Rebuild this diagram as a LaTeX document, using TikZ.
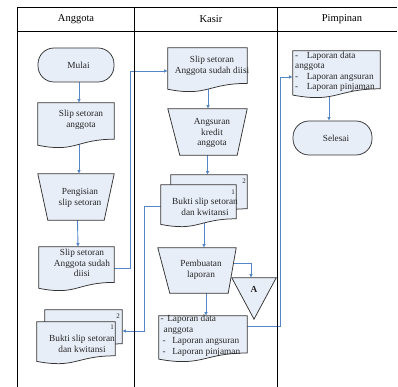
\documentclass[tikz,border=0pt]{standalone}
\usepackage{fontspec}
\setmainfont{Liberation Serif}
\usetikzlibrary{arrows.meta,calc}

\definecolor{shapefill}{RGB}{232,238,248}
\definecolor{linkblue}{RGB}{84,134,200}

\pgfdeclarelayer{bg}
\pgfsetlayers{bg,main}

\tikzset{
  frame/.style={draw=black, line width=0.9pt},
  outline/.style={draw=black!80, fill=shapefill, line width=0.75pt},
  bbox/.style 2 args={rectangle, draw=none, inner sep=0pt, minimum width=#1, minimum height=#2},
  txt/.style={font=\fontsize{9.3}{10.5}\selectfont, align=center, inner sep=0pt, text=black!85},
  listtxt/.style={font=\fontsize{9.3}{10.5}\selectfont, align=left, inner sep=0pt, text=black!85, anchor=north west},
  pagenum/.style={font=\fontsize{7}{8}\selectfont, inner sep=0pt, text=black!85},
  head/.style={font=\fontsize{10.5}{12}\selectfont, inner sep=0pt},
  term/.style={rectangle, rounded corners=16pt, outline, minimum width=#1, minimum height=34pt, txt},
  conn/.style={draw=linkblue, line width=0.9pt, -{Latex[length=3.6pt,width=3.6pt]}}
}

% document symbol: flat top, wavy bottom, drawn inside the node's box
\newcommand\docoutline[1]{%
  \draw[outline] let \p1=(#1.north west), \p2=(#1.south east), \n1={\y1-\y2} in
    (\x1,\y1) -- (\x2,\y1) -- (\x2,{\y1-0.802*\n1})
    .. controls ({0.5*\x1+0.5*\x2},{\y1-0.802*\n1}) and ({0.5*\x1+0.5*\x2},{\y1-1.1075*\n1})
    .. (\x1,{\y1-0.934*\n1}) -- cycle;}

% manual operation symbol: trapezoid narrowing downwards
\newcommand\manoutline[3]{%
  \draw[outline] (#1.north west) -- (#1.north east) -- ([xshift=-#3]#1.south east)
    -- ([xshift=#2]#1.south west) -- cycle;}

\begin{document}
\begin{tikzpicture}[x=1pt,y=-1pt]
\useasboundingbox (0,0) rectangle (398,387);

% swimlane frame
\draw[frame] (17,7) -- (397,7);
\draw[frame] (17,31) -- (397,31);
\draw[frame] (17,7) -- (17,387);
\draw[frame] (134,7) -- (134,387);
\draw[frame] (277,7) -- (277,387);
\node[head] (h1) at (76,19) {Anggota};
\node[head] (h2) at (211,19) {Kasir};
\node[head] (h3) at (342,19) {Pimpinan};

% ---- Anggota ----
\node[term=76pt] (mulai) at (76,65) {\hspace*{5pt}Mulai};

\node[bbox={76pt}{45pt}] (slipA) at (76,125.5) {};
\docoutline{slipA}
\node[txt] (slipA-t) at (81,120) {Slip setoran\\anggota};

\node[bbox={76pt}{46pt}] (isi) at (76,197) {};
\manoutline{isi}{10pt}{10pt}
\node[txt] (isi-t) at (80,198) {Pengisian\\slip setoran};

\node[bbox={75pt}{44pt}] (slipB) at (76.5,269) {};
\docoutline{slipB}
\node[txt] (slipB-t) at (82,263) {Slip setoran\\Anggota sudah\\diisi};

\node[bbox={77pt}{42pt}] (buktiA-back) at (83.5,331) {};
\node[bbox={78pt}{42pt}] (buktiA) at (76,343) {};
\docoutline{buktiA-back}
\docoutline{buktiA}
\node[pagenum] (buktiA-2) at (118,316) {2};
\node[pagenum] (buktiA-1) at (112,327) {1};
\node[txt] (buktiA-t) at (82,344) {Bukti slip setoran\\dan kwitansi};

% ---- Kasir ----
\node[bbox={79pt}{44pt}] (slipK) at (207.5,70) {};
\docoutline{slipK}
\node[txt] (slipK-t) at (212,66) {Slip setoran\\Anggota sudah diisi};

\node[bbox={79pt}{46pt}] (angs) at (207.5,132) {};
\manoutline{angs}{12pt}{10pt}
\node[txt] (angs-t) at (212,133) {Angsuran\\kredit\\anggota};

\node[bbox={76pt}{42pt}] (buktiK-back) at (209,196) {};
\node[bbox={75pt}{42pt}] (buktiK) at (198.5,206) {};
\docoutline{buktiK-back}
\docoutline{buktiK}
\node[pagenum] (buktiK-2) at (244,181) {2};
\node[pagenum] (buktiK-1) at (233,192) {1};
\node[txt] (buktiK-t) at (205,207) {Bukti slip setoran\\dan kwitansi};

\node[bbox={78pt}{45pt}] (buat) at (197,270.5) {};
\manoutline{buat}{12pt}{8pt}
\node[txt] (buat-t) at (201,270) {Pembuatan\\laporan};

\node[bbox={44pt}{41pt}] (tri) at (254,298.5) {};
\draw[outline] (tri.north west) -- (tri.north east) -- (tri.south) -- cycle;
\node[txt, font=\fontsize{9.3}{10.5}\selectfont\bfseries] (tri-t) at (254,289) {A};

\node[bbox={88pt}{46pt}] (lapK) at (203,339) {};
\docoutline{lapK}
\node[listtxt, font=\fontsize{9.3}{11}\selectfont] (lapK-t) at (160.5,314.5)
  {-\hspace{3.5pt}Laporan data\\\hspace*{3pt}anggota\\\hspace*{2pt}-\hspace{6.5pt}Laporan angsuran\\\hspace*{2pt}-\hspace{6.5pt}Laporan pinjaman};

% ---- Pimpinan ----
\node[bbox={87pt}{47pt}] (lapP) at (336.5,74.5) {};
\docoutline{lapP}
\node[listtxt] (lapP-t) at (295,51.5)
  {-\hspace{8.5pt}Laporan data\\anggota\\-\hspace{8.5pt}Laporan angsuran\\-\hspace{8.5pt}Laporan pinjaman};

\node[term=79pt] (selesai) at (332.5,138) {\hspace*{7pt}Selesai};

% bend points of the long connectors
\coordinate (dbend) at (130,71);
\coordinate (gbend) at (144,206);
\coordinate (kbend) at (280,77);

% ---- connectors (behind the symbols) ----
\begin{pgfonlayer}{bg}
\draw[conn] ([xshift=3pt]mulai.south) -- ([xshift=3pt]slipA.north);
\draw[conn] ([xshift=3pt]slipA.center) -- ([xshift=3pt]isi.north);
\draw[conn] ([xshift=1.5pt]isi.south) -- ([xshift=1.5pt]slipB.north);
\draw[conn] ([yshift=1pt]slipB.center) -| (dbend) -- ([yshift=-1pt]slipK.west);

\draw[conn] ([xshift=0.5pt]slipK.center) -- ([xshift=0.5pt]angs.north);
\draw[conn] (angs.south) -- (angs.south |- buktiK-back.north);
\draw[conn] (buktiK.center) -- (gbend) |- (buktiA-back.east);
\draw[conn] ([xshift=5.5pt]buktiK.center) -- ([xshift=5.5pt]buktiK.center |- buat.north);
\draw[conn] ([yshift=7.5pt]buat.center) -| ([xshift=-3pt]tri.north);
\draw[conn] ([xshift=9pt]buat.south) -- ([xshift=9pt]buat.south |- lapK.north);
\draw[conn] ([yshift=13pt]lapK.center) -| (kbend) -- ([yshift=-2.5pt]lapP.west);

\draw[conn] ([xshift=-7.5pt]lapP.center) -- ([xshift=-7.5pt]lapP.center |- selesai.north);
\end{pgfonlayer}
\end{tikzpicture}
\end{document}
